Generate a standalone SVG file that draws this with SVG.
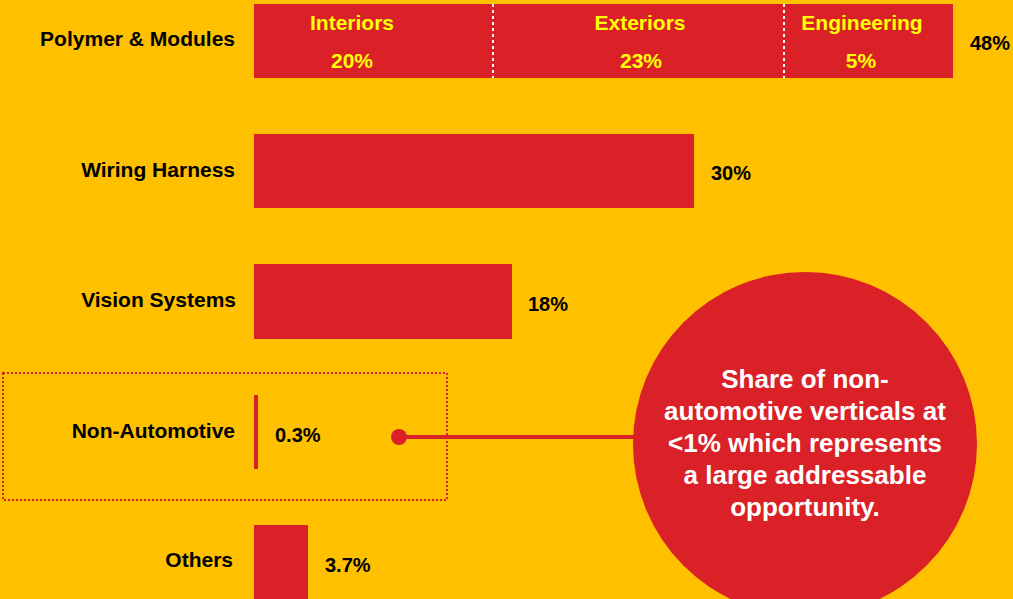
<svg xmlns="http://www.w3.org/2000/svg" width="1013" height="599" viewBox="0 0 1013 599">
<style>
.bar{fill:#DA2128;}
.lbl{font-family:"Liberation Sans",Arial,sans-serif;font-weight:bold;font-size:21px;fill:#000;text-anchor:end;}
.val{font-family:"Liberation Sans",Arial,sans-serif;font-weight:bold;font-size:20px;fill:#000;}
.seg{font-family:"Liberation Sans",Arial,sans-serif;font-weight:bold;font-size:21px;fill:#FFFF00;text-anchor:middle;}
.div{stroke:#FFFFFF;stroke-width:2;stroke-dasharray:3 3;}
.call{font-family:"Liberation Sans",Arial,sans-serif;font-weight:bold;font-size:26px;fill:#FFFFFF;text-anchor:middle;}
</style>
<rect x="0" y="0" width="1013" height="599" fill="#FFC000"/>
<g id="polymer">
<rect class="bar" x="254" y="4" width="699" height="74"/>
<line class="div" x1="493" y1="4" x2="493" y2="78"/>
<line class="div" x1="784" y1="4" x2="784" y2="78"/>
<text class="lbl" x="235" y="46">Polymer &amp; Modules</text>
<text class="seg" x="352" y="30">Interiors</text>
<text class="seg" x="352" y="68">20%</text>
<text class="seg" x="640" y="30">Exteriors</text>
<text class="seg" x="641" y="68">23%</text>
<text class="seg" x="862" y="30">Engineering</text>
<text class="seg" x="861" y="68">5%</text>
<text class="val" x="970" y="50">48%</text>
</g>
<g id="wiring">
<rect class="bar" x="254" y="134" width="440" height="74"/>
<text class="lbl" x="235" y="177">Wiring Harness</text>
<text class="val" x="711" y="180">30%</text>
</g>
<g id="vision">
<rect class="bar" x="254" y="264" width="258" height="75"/>
<text class="lbl" x="236" y="307">Vision Systems</text>
<text class="val" x="528" y="311">18%</text>
</g>
<g id="nonauto">
<rect x="3" y="373" width="444" height="127" fill="none" stroke="#DA2128" stroke-width="2" stroke-dasharray="2 2"/>
<rect class="bar" x="254" y="395" width="4" height="74"/>
<text class="lbl" x="235" y="438">Non-Automotive</text>
<text class="val" x="275" y="442">0.3%</text>
</g>
<g id="others">
<rect class="bar" x="254" y="525" width="54" height="74"/>
<text class="lbl" x="233" y="567">Others</text>
<text class="val" x="325" y="572">3.7%</text>
</g>
<g id="connectors">
<line x1="399" y1="437" x2="640" y2="437" stroke="#DA2128" stroke-width="4"/>
<circle cx="399" cy="437" r="8" fill="#DA2128"/>
</g>
<g id="callout">
<circle cx="805" cy="444" r="172" fill="#DA2128"/>
<text class="call" x="805" y="388">Share of non-</text>
<text class="call" x="805" y="420">automotive verticals at</text>
<text class="call" x="805" y="452">&lt;1% which represents</text>
<text class="call" x="805" y="484">a large addressable</text>
<text class="call" x="805" y="516">opportunity.</text>
</g>
</svg>
